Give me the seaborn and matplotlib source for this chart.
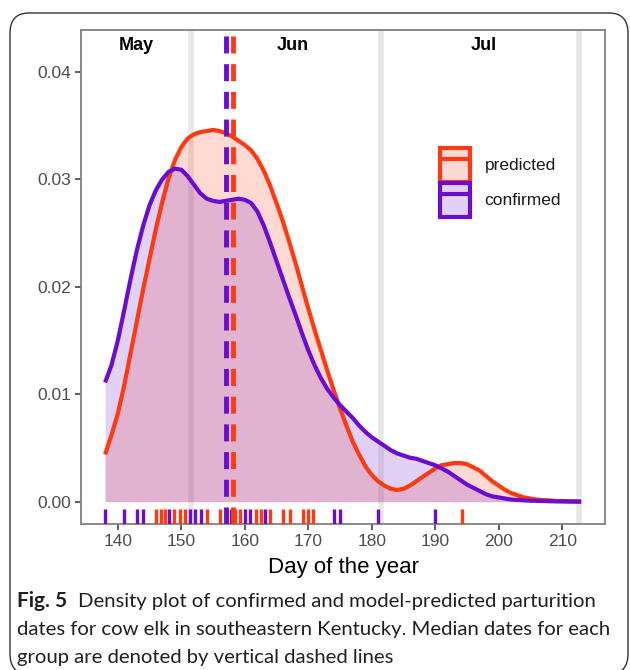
import numpy as np
import pandas as pd
import matplotlib
matplotlib.use("Agg")
import matplotlib.pyplot as plt
import seaborn as sns
from matplotlib.patches import Patch, FancyBboxPatch
from matplotlib.lines import Line2D
from matplotlib.colors import to_rgba

# ---------------- data ----------------
# rug: individual parturition dates (day of year)
confirmed_days = [138, 141, 143, 144, 148.1, 151.4, 152.2, 153.1, 157.0, 157.8,
                  160.1, 160.9, 163.2, 174, 175, 181, 190]
predicted_days = [146.0, 146.8, 147.4, 148.9, 149.8, 150.6, 154.1, 156.1, 158.5,
                  159.3, 161.7, 162.5, 164.0, 166.1, 167.1, 169.1, 169.9, 170.8, 194.2]

# density curves
confirmed_curve_day = [138, 139, 140, 141, 142, 143, 144, 145, 146, 147, 148, 149, 150,
                       151, 152, 153, 154, 155, 156, 157, 158, 159, 160, 161, 162, 163,
                       164, 165, 166, 167, 168, 169, 170, 171, 172, 173, 174, 175, 176,
                       177, 178, 179, 180, 181, 182, 183, 184, 185, 186, 187, 188, 189,
                       190, 191, 192, 193, 194, 195, 196, 197, 198, 199, 200, 202, 205,
                       209, 213]
confirmed_curve_density = [0.0111, 0.0127, 0.0150, 0.0178, 0.0207, 0.0234, 0.0257, 0.0276,
                           0.0290, 0.0300, 0.0307, 0.0310, 0.0309, 0.0303, 0.0295, 0.0287,
                           0.0282, 0.0280, 0.0279, 0.0280, 0.0281, 0.0282, 0.0281, 0.0278,
                           0.0270, 0.0257, 0.0241, 0.0224, 0.0207, 0.0190, 0.0174, 0.0157,
                           0.0141, 0.0127, 0.0115, 0.0105, 0.0097, 0.0090, 0.0084, 0.0078,
                           0.0071, 0.0065, 0.0060, 0.0056, 0.0052, 0.0048, 0.0045, 0.0043,
                           0.0041, 0.0040, 0.0038, 0.0036, 0.0034, 0.0031, 0.0028, 0.0024,
                           0.0020, 0.0016, 0.0013, 0.0010, 0.0007, 0.0005, 0.0004, 0.0002,
                           0.0001, 0.00003, 0.0]
predicted_curve_day = [138, 139, 140, 141, 142, 143, 144, 145, 146, 147, 148, 149, 150,
                       151, 152, 153, 154, 155, 156, 157, 158, 159, 160, 161, 162, 163,
                       164, 165, 166, 167, 168, 169, 170, 171, 172, 173, 174, 175, 176,
                       177, 178, 179, 180, 181, 182, 183, 184, 185, 186, 187, 188, 189,
                       190, 191, 192, 193, 194, 195, 196, 197, 198, 199, 200, 201, 202,
                       203, 204, 206, 209, 213]
predicted_curve_density = [0.0044, 0.0062, 0.0082, 0.0108, 0.0138, 0.0168, 0.0198, 0.0226,
                           0.0254, 0.0279, 0.0301, 0.0318, 0.0330, 0.0338, 0.0342, 0.0344,
                           0.0345, 0.0346, 0.0345, 0.0343, 0.0340, 0.0336, 0.0332, 0.0327,
                           0.0319, 0.0308, 0.0294, 0.0278, 0.0261, 0.0242, 0.0222, 0.0201,
                           0.0180, 0.0160, 0.0141, 0.0122, 0.0104, 0.0087, 0.0071, 0.0056,
                           0.0044, 0.0033, 0.0025, 0.0019, 0.0015, 0.0012, 0.0011, 0.0012,
                           0.0015, 0.0019, 0.0023, 0.0027, 0.0031, 0.0034, 0.0035, 0.0036,
                           0.0036, 0.0035, 0.0032, 0.0029, 0.0024, 0.0019, 0.0015, 0.0011,
                           0.0008, 0.0006, 0.0004, 0.0002, 0.00008, 0.00003]

median_confirmed = 157.1
median_predicted = 158.1
month_bounds = [151.6, 181.5, 212.7]
month_labels = ["May", "Jun", "Jul"]
month_label_x = [142.9, 167.6, 197.7]
x_ticks = [140, 150, 160, 170, 180, 190, 200, 210]
y_ticks = [0.00, 0.01, 0.02, 0.03, 0.04]
groups = ["predicted", "confirmed"]
colors = {"predicted": "#FF3A12", "confirmed": "#6A0DD0"}
caption_bold = "Fig. 5"
caption_lines = ["Density plot of confirmed and model-predicted parturition",
                 "dates for cow elk in southeastern Kentucky. Median dates for each",
                 "group are denoted by vertical dashed lines"]

rug_df = pd.DataFrame({
    "day": predicted_days + confirmed_days,
    "group": ["predicted"] * len(predicted_days) + ["confirmed"] * len(confirmed_days),
})
curve_df = pd.DataFrame({
    "day": predicted_curve_day + confirmed_curve_day,
    "density": predicted_curve_density + confirmed_curve_density,
    "group": ["predicted"] * len(predicted_curve_day) + ["confirmed"] * len(confirmed_curve_day),
})

sns.set_theme(style="white")
plt.rcParams['font.family'] = ['Liberation Sans', 'DejaVu Sans']

W, H = 630, 670
fig = plt.figure(figsize=(W / 100, H / 100), dpi=100)
ax = fig.add_axes([81.3 / W, 1 - 524.3 / H, (605 - 81.3) / W, (524.3 - 30) / H])

# month boundary lines
for b in month_bounds:
    ax.axvline(b, color="#E8E8E8", lw=4.0, zorder=0)

# density fills
for g in groups:
    sub = curve_df[curve_df.group == g]
    ax.fill_between(sub.day, sub.density, 0, color=colors[g], alpha=0.19, lw=0, zorder=1)
# density outlines
sns.lineplot(data=curve_df, x="day", y="density", hue="group", hue_order=groups,
             palette=colors, lw=3.0, legend=False, ax=ax, zorder=3,
             solid_joinstyle="round", solid_capstyle="butt")

# rugs
for g in groups:
    sub = rug_df[rug_df.group == g]
    sns.rugplot(data=sub, x="day", height=0.03, color=colors[g], linewidth=2.4,
                ax=ax, expand_margins=False, zorder=4)

# medians
ax.axvline(median_confirmed, color=colors["confirmed"], lw=3.5, ls=(0, (3.5, 2.2)), zorder=5)
ax.axvline(median_predicted, color=colors["predicted"], lw=3.5, ls=(0, (3.5, 2.2)), zorder=5)

# month labels
for lab, xm in zip(month_labels, month_label_x):
    ax.text(xm, 0.0425, lab, ha="center", va="center", fontsize=13,
            fontweight="bold", color="black")

ax.set_xlim(134.25, 216.75)
ax.set_ylim(-0.0021, 0.0439)
ax.set_xticks(x_ticks)
ax.set_yticks(y_ticks)
ax.set_yticklabels([f"{v:.2f}" for v in y_ticks])
ax.set_xlabel("Day of the year", fontsize=16, color="black", labelpad=6)
ax.set_ylabel("")
ax.tick_params(axis="both", colors="#333333", labelcolor="#4D4D4D", labelsize=12.5,
               length=4, width=1.1, direction="out", bottom=True, left=True, pad=3)
for s in ax.spines.values():
    s.set_color("#808080")
    s.set_linewidth(1.3)

# legend
handles = []
for g in groups:
    c = colors[g]
    handles.append((Patch(facecolor=to_rgba(c, 0.19), edgecolor=c, lw=3),
                    Line2D([], [], color=c, lw=3)))
leg = fig.legend(handles, groups, loc="upper left",
                 bbox_to_anchor=(440 / W, 1 - 148 / H), frameon=False,
                 fontsize=12.5, handlelength=1.72, handleheight=2.6, labelspacing=0.1,
                 handletextpad=0.85, borderpad=0, borderaxespad=0)
for t in leg.get_texts():
    t.set_color("#1A1A1A")

# outer rounded box
box = FancyBboxPatch((10 / W, 1 - 674 / H), (628 - 10) / W, (674 - 13) / H,
                     boxstyle="round,pad=0,rounding_size=0.03",
                     transform=fig.transFigure, fill=False, ec="#333333", lw=1.0)
fig.add_artist(box)

# caption
cap_font = ['Lato', 'DejaVu Sans']
fs = 14.6
t0 = fig.text(17 / W, 1 - 601 / H, caption_bold, fontsize=fs + 0.4, fontweight="bold",
              family=cap_font, va="center", ha="left", color="#231F20")
fig.canvas.draw()
bb = t0.get_window_extent()
x1 = (bb.x1 + 11) / W
fig.text(x1, 1 - 601 / H, caption_lines[0], fontsize=fs, family=cap_font,
         va="center", ha="left", color="#231F20")
fig.text(17 / W, 1 - 629 / H, caption_lines[1], fontsize=fs, family=cap_font,
         va="center", ha="left", color="#231F20")
fig.text(17 / W, 1 - 657 / H, caption_lines[2], fontsize=fs, family=cap_font,
         va="center", ha="left", color="#231F20")

fig.savefig("out.png", dpi=100)
